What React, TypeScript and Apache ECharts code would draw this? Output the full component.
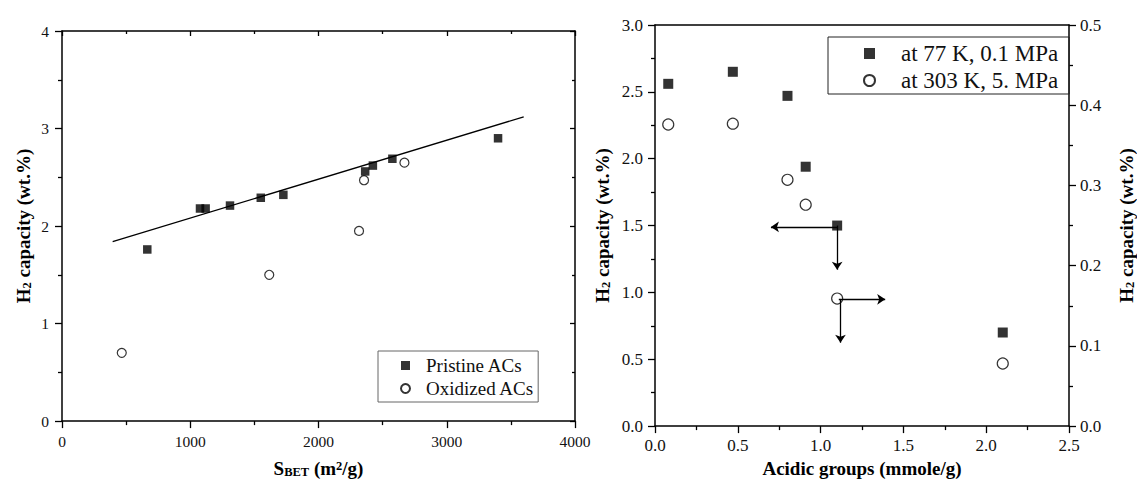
import React, { useEffect, useRef } from 'react';
import * as echarts from 'echarts';

const FONT = 'Liberation Serif';

// Left panel: H2 capacity vs BET surface area
const pristineX = [665, 1076, 1120, 1310, 1550, 1726, 2364, 2424, 2576, 3400];
const pristineY = [1.76, 2.18, 2.18, 2.21, 2.29, 2.32, 2.56, 2.62, 2.69, 2.90];
const oxidizedX = [466, 1616, 2316, 2355, 2670];
const oxidizedY = [0.70, 1.50, 1.95, 2.47, 2.65];
const fitX = [395, 3600];
const fitY = [1.84, 3.12];
const leftXTicks = [0, 1000, 2000, 3000, 4000];
const leftYTicks = [0, 1, 2, 3, 4];

// Right panel: H2 capacity vs acidic groups
const acidX = [0.08, 0.47, 0.80, 0.91, 1.10, 2.10];
const cap77 = [2.56, 2.65, 2.47, 1.94, 1.50, 0.70];
const cap303 = [0.376, 0.377, 0.307, 0.276, 0.159, 0.078];
const rightXTicks = [0, 0.5, 1.0, 1.5, 2.0, 2.5];
const rightYTicks = [0, 0.5, 1.0, 1.5, 2.0, 2.5, 3.0];
const rightY2Ticks = [0, 0.1, 0.2, 0.3, 0.4, 0.5];
// arrows [x1, y1, x2, y2]
const arrows77 = [
  [1.10, 1.49, 0.70, 1.49],
  [1.10, 1.50, 1.10, 1.17],
];
const arrows303 = [
  [1.11, 0.158, 1.39, 0.158],
  [1.12, 0.158, 1.12, 0.104],
];

const names = {
  pristine: 'Pristine ACs',
  oxidized: 'Oxidized ACs',
  k77: 'at 77 K, 0.1 MPa',
  k303: 'at 303 K, 5. MPa',
};

const titleStyle = {
  fontFamily: FONT,
  fontSize: 19,
  fontWeight: 'bold',
  color: '#000',
  rich: {
    sub: { fontFamily: FONT, fontSize: 12.5, fontWeight: 'bold', color: '#000', verticalAlign: 'bottom', lineHeight: 12, padding: [11, 0, 0, 0] },
    sup: { fontFamily: FONT, fontSize: 12.5, fontWeight: 'bold', color: '#000', verticalAlign: 'top', lineHeight: 12 },
  },
};

const lineSt = { color: '#000', width: 1.5 };
const tickSt = { color: '#000', width: 1.3 };

function axis(o: any) {
  const labelSize = o.labelSize || 15;
  return {
    type: 'value',
    gridIndex: o.grid,
    position: o.position,
    min: o.min,
    max: o.max,
    interval: o.interval,
    axisLine: { show: true, onZero: false, lineStyle: lineSt },
    axisTick: { show: o.ticks !== false, inside: !!o.inside, length: o.inside ? 5 : 7, lineStyle: tickSt },
    minorTick: { show: o.ticks !== false, splitNumber: o.minor || 2, length: o.inside ? 3 : 4, lineStyle: tickSt },
    splitLine: { show: false },
    axisLabel: {
      show: !!o.labels,
      fontFamily: FONT,
      fontSize: labelSize,
      color: '#111',
      margin: o.margin || 12,
      formatter: o.fmt,
    },
    name: o.name,
    nameLocation: 'middle',
    nameGap: o.nameGap,
    nameRotate: o.nameRotate,
    nameTextStyle: titleStyle,
  };
}

const pairs = (xs: number[], ys: number[]) => xs.map((x, i) => [x, ys[i]]);
const arrowData = (arr: number[][]) =>
  arr.map((a) => [{ coord: [a[0], a[1]] }, { coord: [a[2], a[3]] }]);

const fmt0 = (v: number) => String(v);
const fmt1 = (v: number) => v.toFixed(1);

function legendText(size: number, gap: number, lh: number) {
  return {
    formatter: (n: string) => `{t|${n}}`,
    textStyle: {
      fontFamily: FONT,
      fontSize: size,
      color: '#111',
      rich: { t: { fontFamily: FONT, fontSize: size, color: '#111', lineHeight: lh, padding: [0, 0, 0, gap] } },
    },
  };
}

const markArrows = (arr: number[][]) => ({
  silent: true,
  symbol: ['none', 'arrow'],
  symbolSize: 8,
  label: { show: false },
  lineStyle: { color: '#000', width: 1.3, type: 'solid' },
  emphasis: { disabled: true },
  data: arrowData(arr),
});

const option: any = {
  animation: false,
  backgroundColor: '#fff',
  grid: [
    { left: 62, top: 31, width: 513, height: 397 },
    { left: 655, top: 25, width: 418, height: 408 },
  ],
  xAxis: [
    axis({ grid: 0, position: 'bottom', min: leftXTicks[0], max: leftXTicks[leftXTicks.length - 1], interval: 1000, labels: true, labelSize: 15.5, margin: 12, fmt: fmt0, name: 'S{sub|BET} (m{sup|2}/g)', nameGap: 34 }),
    axis({ grid: 0, position: 'top', min: leftXTicks[0], max: leftXTicks[leftXTicks.length - 1], interval: 1000, inside: true }),
    axis({ grid: 1, position: 'bottom', min: rightXTicks[0], max: rightXTicks[rightXTicks.length - 1], interval: 0.5, labels: true, labelSize: 17, margin: 11, fmt: fmt1, name: 'Acidic groups (mmole/g)', nameGap: 32 }),
    axis({ grid: 1, position: 'top', min: rightXTicks[0], max: rightXTicks[rightXTicks.length - 1], interval: 0.5, ticks: false }),
  ],
  yAxis: [
    axis({ grid: 0, position: 'left', min: leftYTicks[0], max: leftYTicks[leftYTicks.length - 1], interval: 1, labels: true, labelSize: 15.5, margin: 13, fmt: fmt0, name: 'H{sub|2} capacity (wt.%)', nameGap: 29, nameRotate: 90 }),
    axis({ grid: 0, position: 'right', min: leftYTicks[0], max: leftYTicks[leftYTicks.length - 1], interval: 1, inside: true }),
    axis({ grid: 1, position: 'left', min: rightYTicks[0], max: rightYTicks[rightYTicks.length - 1], interval: 0.5, labels: true, labelSize: 17, margin: 12, fmt: fmt1, name: 'H{sub|2} capacity (wt.%)', nameGap: 43, nameRotate: 90 }),
    axis({ grid: 1, position: 'right', min: rightY2Ticks[0], max: rightY2Ticks[rightY2Ticks.length - 1], interval: 0.1, labels: true, labelSize: 17, margin: 11, fmt: fmt1, name: 'H{sub|2} capacity (wt.%)', nameGap: 48, nameRotate: 90 }),
  ],
  legend: [
    {
      orient: 'vertical',
      left: 378,
      top: 351,
      data: [
        { name: names.pristine, icon: 'rect' },
        { name: names.oxidized, icon: 'circle' },
      ],
      itemWidth: 9,
      itemHeight: 9,
      itemGap: 4,
      padding: [5, 4, 4, 22],
      borderColor: '#666',
      borderWidth: 1,
      borderRadius: 0,
      ...legendText(19, 11, 20),
      selectedMode: false,
    },
    {
      orient: 'vertical',
      left: 828,
      top: 37,
      data: [
        { name: names.k77, icon: 'rect' },
        { name: names.k303, icon: 'circle' },
      ],
      itemWidth: 11,
      itemHeight: 11,
      itemGap: 4,
      padding: [5, 11, 2, 35],
      borderColor: '#222',
      borderWidth: 1,
      borderRadius: 0,
      ...legendText(23, 21, 24),
      selectedMode: false,
    },
  ],
  series: [
    {
      name: 'fit',
      type: 'line',
      xAxisIndex: 0,
      yAxisIndex: 0,
      data: pairs(fitX, fitY),
      showSymbol: false,
      symbol: 'none',
      lineStyle: { color: '#000', width: 1.3 },
      silent: true,
      z: 1,
    },
    {
      name: names.pristine,
      type: 'scatter',
      xAxisIndex: 0,
      yAxisIndex: 0,
      data: pairs(pristineX, pristineY),
      symbol: 'rect',
      symbolSize: 8.5,
      itemStyle: { color: '#000' },
      z: 3,
    },
    {
      name: names.oxidized,
      type: 'scatter',
      xAxisIndex: 0,
      yAxisIndex: 0,
      data: pairs(oxidizedX, oxidizedY),
      symbol: 'circle',
      symbolSize: 9,
      itemStyle: { color: '#fff', borderColor: '#000', borderWidth: 1.2 },
      z: 3,
    },
    {
      name: names.k77,
      type: 'scatter',
      xAxisIndex: 2,
      yAxisIndex: 2,
      data: pairs(acidX, cap77),
      symbol: 'rect',
      symbolSize: 10,
      itemStyle: { color: '#000' },
      z: 3,
      markLine: markArrows(arrows77),
    },
    {
      name: names.k303,
      type: 'scatter',
      xAxisIndex: 2,
      yAxisIndex: 3,
      data: pairs(acidX, cap303),
      symbol: 'circle',
      symbolSize: 11,
      itemStyle: { color: '#fff', borderColor: '#000', borderWidth: 1.2 },
      z: 3,
      markLine: markArrows(arrows303),
    },
  ],
};

export default function App() {
  const ref = useRef<HTMLDivElement>(null);
  useEffect(() => {
    document.body.style.margin = '0';
    const chart = echarts.init(ref.current!, null, { renderer: 'svg' });
    chart.setOption(option);
    return () => chart.dispose();
  }, []);
  return <div ref={ref} style={{ width: 1137, height: 483 }} />;
}
